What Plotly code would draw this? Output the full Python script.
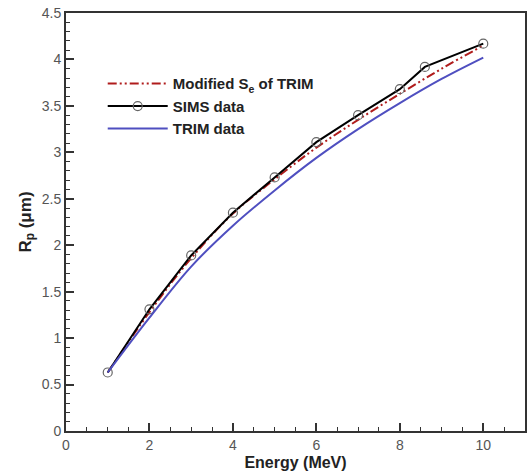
import plotly.graph_objects as go

energy = [1, 2, 3, 4, 5, 6, 7, 8, 8.6, 10]
sims = [0.63, 1.31, 1.89, 2.35, 2.73, 3.11, 3.40, 3.68, 3.92, 4.17]

energy_model = [1, 2, 3, 4, 5, 6, 7, 8, 9, 10]
modified_se = [0.63, 1.28, 1.86, 2.34, 2.71, 3.05, 3.35, 3.63, 3.90, 4.15]
trim = [0.63, 1.22, 1.77, 2.21, 2.59, 2.94, 3.25, 3.53, 3.79, 4.02]

font_fam = "Liberation Sans, Arial, sans-serif"

fig = go.Figure()
fig.add_trace(go.Scatter(
    x=energy_model, y=modified_se, mode="lines", name="Modified S<sub>e</sub> of TRIM",
    line=dict(color="#b01c1c", width=2, dash="9px,3px,2px,3px,2px,3px"),
    line_shape="spline"))
fig.add_trace(go.Scatter(
    x=energy, y=sims, mode="lines+markers", name="SIMS data",
    line=dict(color="black", width=2),
    marker=dict(symbol="circle-open", size=9, color="#666666", line=dict(width=1.2))))
fig.add_trace(go.Scatter(
    x=energy_model, y=trim, mode="lines", name="TRIM data",
    line=dict(color="#4f4fc0", width=2), line_shape="spline"))

axis_common = dict(
    showgrid=False, zeroline=False, showline=True, linecolor="#333333", linewidth=2,
    mirror=True, ticks="inside", ticklen=8, tickwidth=2, tickcolor="#333333",
    tickfont=dict(family=font_fam, size=14, color="#555555"),
)
fig.update_xaxes(range=[0, 11], dtick=2, tick0=0,
                 minor=dict(dtick=0.5, ticks="inside", ticklen=4, tickcolor="#333333", tickwidth=1),
                 title=dict(text="Energy (MeV)", standoff=5,
                            font=dict(family=font_fam, size=16, color="#222222", weight="bold")),
                 **axis_common)
fig.update_yaxes(range=[0, 4.5], dtick=0.5, tick0=0,
                 minor=dict(dtick=0.1, ticks="inside", ticklen=4, tickcolor="#333333", tickwidth=1),
                 title=dict(text="R<sub>p</sub> (μm)", standoff=6,
                            font=dict(family=font_fam, size=17, color="#222222", weight="bold")),
                 **axis_common)

fig.update_layout(
    width=529, height=471,
    margin=dict(l=66, r=2, t=13, b=39),
    plot_bgcolor="white", paper_bgcolor="white",
    showlegend=True,
    legend=dict(x=0.08, y=0.87, xanchor="left", yanchor="top",
                bgcolor="rgba(0,0,0,0)", itemwidth=60, tracegroupgap=0,
                font=dict(family=font_fam, size=15, color="#222222", weight="bold")),
)

fig.write_html("out.html")
